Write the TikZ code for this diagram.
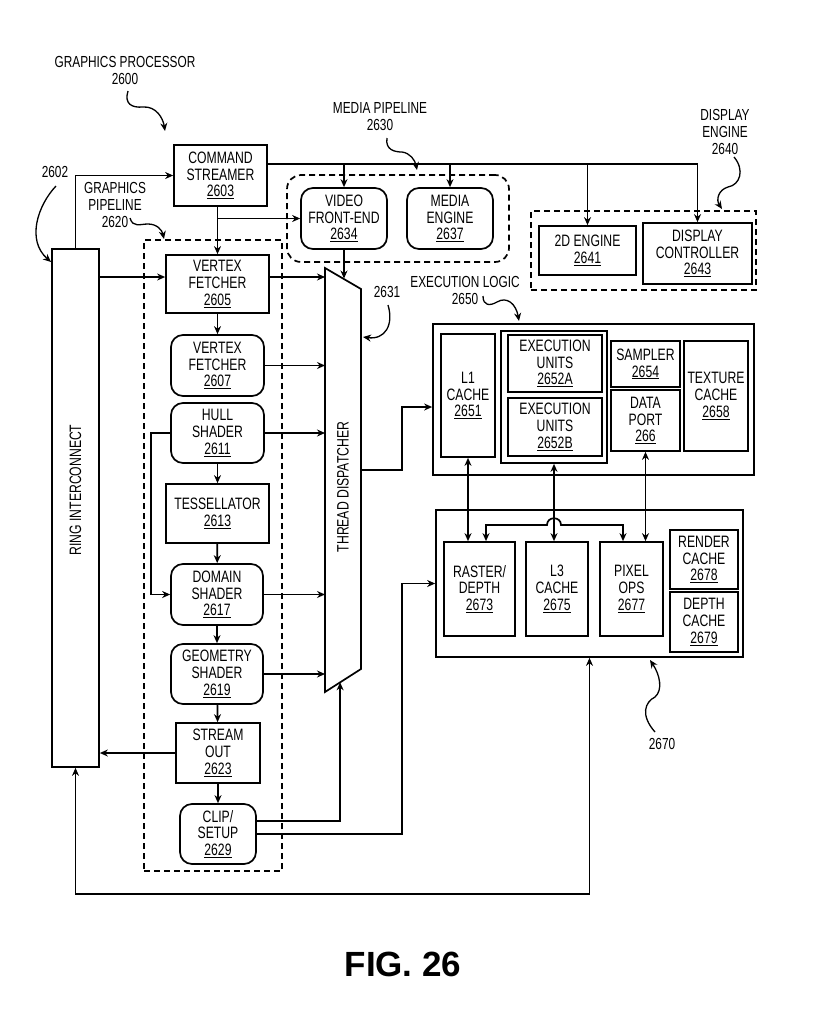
\documentclass[tikz,border=0pt]{standalone}
\usepackage{fontspec}
\setmainfont{Liberation Sans}[FakeStretch=0.74]
\newfontfamily\figfont{Liberation Sans}
\usetikzlibrary{arrows.meta,calc}

\begin{document}
\begin{tikzpicture}
		[x=1pt, y=-1pt, line width=1.7pt, >={Stealth[length=8pt,width=7pt]},
		every node/.style={inner sep=0pt, align=center, font=\fontsize{16.5}{16.8}\selectfont},
		box/.style 2 args={draw, minimum width=#1, minimum height=#2},
		rbox/.style 2 args={box={#1}{#2}, rounded corners=12pt},
		grp/.style={draw, dash pattern=on 6pt off 4pt},
		callout/.style={->, line width=1.3pt}]
		\useasboundingbox (0,0) rectangle (827,1023);
		
		% frames
		\node[grp, minimum width=138pt, minimum height=631pt] (gpipe) at (213,555.5) {};
		\node[grp, rounded corners=14pt, minimum width=222pt, minimum height=87pt] (mpipe) at (398,218.5) {};
		\node[grp, minimum width=225pt, minimum height=79pt] (deng) at (643.5,250.5) {};
		\node[box={321pt}{151pt}] (exec) at (593.5,399.5) {};
		\node[box={307pt}{147pt}] (rend) at (589.5,583.5) {};
		
		\node[box={47pt}{518pt}] (ring) at (75.5,508) {};
		\node[rotate=90] (ringtext) at (75.5,490) {RING INTERCONNECT};
		
		\coordinate (td1) at (325,268);
		\coordinate (td2) at (361,289);
		\coordinate (td3) at (361,669);
		\coordinate (td4) at (325,692);
		\draw (td1) -- (td2) -- (td3) -- (td4) -- cycle;
		\node[rotate=90] (tdtext) at (343,487) {THREAD DISPATCHER};
		\coordinate (tdw) at (325,480);
		\coordinate (tde) at (361,470);
		\coordinate (tdtop) at ($(td1)!0.5!(td2)$);
		\coordinate (tdbot) at ($(td4)!0.42!(td3)$);
		\coordinate (jog) at (402,470);
		
		% graphics pipeline
		\node[box={93pt}{61pt}] (cs) at (220.5,175.5) {COMMAND\\STREAMER\\\underline{2603}};
		\node[box={103pt}{58pt}] (vf5) at (217.5,284) {VERTEX\\FETCHER\\\underline{2605}};
		\node[rbox={93pt}{61pt}] (vf7) at (217.5,365.5) {VERTEX\\FETCHER\\\underline{2607}};
		\node[rbox={93pt}{60pt}] (hs) at (217.5,433) {HULL\\SHADER\\\underline{2611}};
		\node[box={103pt}{59pt}] (tess) at (217.5,513.5) {TESSELLATOR\\\underline{2613}};
		\node[rbox={92pt}{61pt}] (ds) at (217,594.5) {DOMAIN\\SHADER\\\underline{2617}};
		\node[rbox={92pt}{60pt}] (gs) at (217,674) {GEOMETRY\\SHADER\\\underline{2619}};
		\node[box={84pt}{60pt}] (so) at (218,753) {STREAM\\OUT\\\underline{2623}};
		\node[rbox={76pt}{60pt}] (clip) at (218,834) {CLIP/\\SETUP\\\underline{2629}};
		
		% media pipeline, display engine
		\node[rbox={86pt}{61pt}] (vfe) at (344,218.5) {VIDEO\\FRONT-END\\\underline{2634}};
		\node[rbox={86pt}{61pt}] (me) at (450,218.5) {MEDIA\\ENGINE\\\underline{2637}};
		\node[box={97pt}{49pt}] (e2d) at (587.5,250.5) {2D ENGINE\\\underline{2641}};
		\node[box={109pt}{61pt}] (dc) at (697.5,253.5) {DISPLAY\\CONTROLLER\\\underline{2643}};
		
		% execution logic
		\node[box={54pt}{123pt}] (l1) at (468,395.5) {L1\\CACHE\\\underline{2651}};
		\node[box={106pt}{132pt}] (eug) at (554,397) {};
		\node[box={94pt}{57pt}] (eua) at (555,363.5) {EXECUTION\\UNITS\\\underline{2652A}};
		\node[box={94pt}{58pt}] (eub) at (555,427) {EXECUTION\\UNITS\\\underline{2652B}};
		\node[box={69pt}{46pt}] (smp) at (645.5,364) {SAMPLER\\\underline{2654}};
		\node[box={69pt}{61pt}] (dp) at (645.5,420.5) {DATA\\PORT\\\underline{266}};
		\node[box={64pt}{110pt}] (tc) at (716,396) {TEXTURE\\CACHE\\\underline{2658}};
		
		% render
		\node[box={71pt}{94pt}] (rd) at (479.5,589) {RASTER/\\DEPTH\\\underline{2673}};
		\node[box={62pt}{94pt}] (l3) at (557,589) {L3\\CACHE\\\underline{2675}};
		\node[box={63pt}{94pt}] (po) at (631.5,589) {PIXEL\\OPS\\\underline{2677}};
		\node[box={68pt}{59pt}] (rc) at (704,559.5) {RENDER\\CACHE\\\underline{2678}};
		\node[box={68pt}{60pt}] (dch) at (704,622) {DEPTH\\CACHE\\\underline{2679}};
		
		% labels
		\node[font=\fontsize{16}{17}\selectfont] (gplbl) at (125,70) {GRAPHICS PROCESSOR\\2600};
		\node[font=\fontsize{16}{17}\selectfont] (ringlbl) at (55,172) {2602};
		\node[font=\fontsize{16}{17}\selectfont] (gpipelbl) at (115,205) {GRAPHICS\\PIPELINE\\2620};
		\node[font=\fontsize{16}{17}\selectfont] (mpipelbl) at (380,117) {MEDIA PIPELINE\\2630};
		\node[font=\fontsize{16}{17}\selectfont] (denglbl) at (725,132) {DISPLAY\\ENGINE\\2640};
		\node[font=\fontsize{16}{17}\selectfont] (execlbl) at (465,290) {EXECUTION LOGIC\\2650};
		\node[font=\fontsize{16}{17}\selectfont] (tdlbl) at (387,292) {2631};
		\node[font=\fontsize{16}{17}\selectfont] (rendlbl) at (662,744) {2670};
		\node[font=\figfont\bfseries\fontsize{35}{40}\selectfont] (fig) at (403,964) {FIG. 26};
		
		% connectors
		\coordinate (bus) at ([yshift=11.5pt]cs.east);
		\draw[->] (ring.north) |- (cs.west);
		\draw[->] (bus) -| (dc.north);
		\draw[->] (bus -| vfe.north) -- (vfe.north);
		\draw[->] (bus -| me.north) -- (me.north);
		\draw[->] (bus -| e2d.north) -- (e2d.north);
		\draw[->] (cs.south -| vf5.north) -- (vf5.north);
		\draw[->] (vf5.north |- vfe.west) -- (vfe.west);
		\draw[->] (vfe.south) -- (vfe.south |- tdtop);
		\draw[->] ([yshift=7pt]vf5.west -| ring.east) -- ([yshift=7pt]vf5.west);
		\draw[->] ([yshift=7pt]vf5.east) -- ([yshift=7pt]vf5.east -| tdw);
		\draw[->] (vf5) -- (vf7);
		\draw[->] (vf7.east) -- (vf7.east -| tdw);
		\draw[->] (hs.east) -- (hs.east -| tdw);
		\draw[->] (hs) -- (tess);
		\draw[->] (hs.west) -- ++(-19,0) |- (ds.west);
		\draw[->] (tess) -- (ds);
		\draw[->] (ds.east) -- (ds.east -| tdw);
		\draw[->] (ds) -- (gs);
		\draw[->] (gs.east) -- (gs.east -| tdw);
		\draw[->] (gs) -- (so);
		\draw[->] (so.west) -- (so.west -| ring.east);
		\draw[->] (so) -- (clip);
		\draw[->] ([yshift=13pt]clip.east) -| (tdbot);
		\draw[->] (clip.east) -| (jog |- rend.west) -- (rend.west);
		\draw[->] (tde) -- (jog) |- ([yshift=-7.5pt]exec.west);
		\draw[<->] (ring.south) -- ++(0,126) -| (rend.south);
		
		\draw[<->] (l1.south) -- (l1.south |- rd.north);
		\draw[<->] (eug.south) -- (eug.south |- l3.north);
		\draw[<->] (dp.south) -- (dp.south |- po.north);
		\coordinate (hopl) at (547,525);
		\coordinate (hopr) at (561,525);
		\draw[<->] ([xshift=6.5pt]rd.north) |- (hopl) .. controls +(0,-9) and +(0,-9) .. (hopr) -| ([xshift=-8.5pt]po.north);
		
		% callouts
		\draw[callout] (128,91) .. controls (124,104) and (132,108) .. (143,107) .. controls (156,106) and (163,118) .. (165,131);
		\draw[callout] (56,186) .. controls (38,205) and (26,240) .. (51,262);
		\draw[callout] (130,218) .. controls (133,228) and (140,224) .. (148,224) .. controls (157,224) and (162,230) .. (164,239);
		\draw[callout] (387,138) .. controls (385,150) and (395,152) .. (402,152) .. controls (410,153) and (415,160) .. (417,170);
		\draw[callout] (734,157) .. controls (745,170) and (740,185) .. (728,187) .. controls (718,190) and (716,200) .. (722,209);
		\draw[callout] (483,296) .. controls (483,306) and (490,306) .. (497,302) .. controls (507,296) and (516,304) .. (519,321);
		\draw[callout] (388,305) .. controls (394,325) and (385,340) .. (363,337);
		\draw[callout] (655,732) .. controls (640,715) and (645,702) .. (655,697) .. controls (663,690) and (660,675) .. (650,660);
		\end{tikzpicture}
\end{document}
